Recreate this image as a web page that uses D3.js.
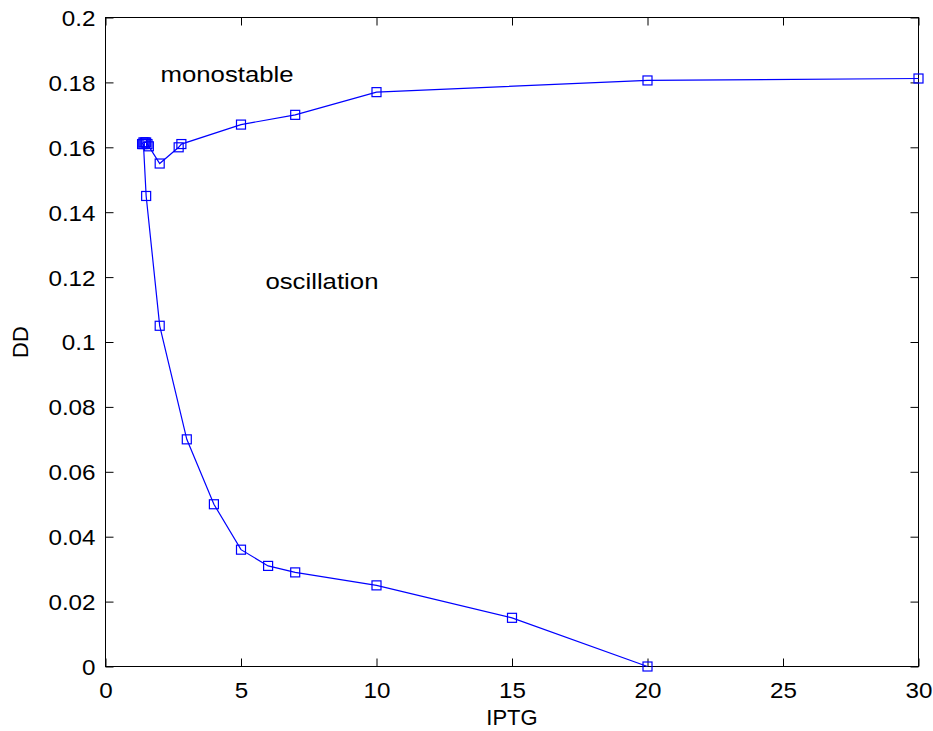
<!DOCTYPE html>
<html>
<head>
<meta charset="utf-8">
<script src="https://cdn.jsdelivr.net/npm/d3@7"></script>
<style>
  html, body { margin: 0; padding: 0; background: #fff; }
  svg { display: block; font-family: "Liberation Sans", Arial, Helvetica, sans-serif; }
</style>
</head>
<body>
<svg id="chart" width="933" height="731"></svg>
<script>
// Bifurcation boundary in the IPTG–DD plane
// Upper branch (monostable boundary), ordered by IPTG
const upperIPTG = [1.35, 1.4, 1.45, 1.5, 1.55, 1.6, 2, 2.7, 2.8, 5, 7, 10, 20, 30];
const upperDD   = [0.161, 0.1615, 0.1615, 0.1615, 0.161, 0.1603, 0.155, 0.160, 0.161, 0.167, 0.170, 0.177, 0.1806, 0.1812];
// Lower branch (oscillation boundary)
const lowerIPTG = [1.4, 1.5, 2, 3, 4, 5, 6, 7, 10, 15, 20];
const lowerDD   = [0.161, 0.145, 0.105, 0.070, 0.050, 0.036, 0.031, 0.029, 0.025, 0.015, 0.0];

const xTicks = [0, 5, 10, 15, 20, 25, 30];
const yTicks = [0, 0.02, 0.04, 0.06, 0.08, 0.1, 0.12, 0.14, 0.16, 0.18, 0.2];

const regionLabels = [
  { text: "monostable", x: 2.03, y: 0.1802 },
  { text: "oscillation", x: 5.9, y: 0.1162 }
];

const svg = d3.select("#chart");
const m = { left: 105.5, right: 918.5, top: 17.5, bottom: 666.5 };

const x = d3.scaleLinear().domain([0, 30]).range([m.left, m.right]);
const y = d3.scaleLinear().domain([0, 0.2]).range([m.bottom, m.top]);

const blue = "#0000ff";
const fontSize = 22;
const tickLen = 8;
const fontFam = "'Liberation Sans', Arial, Helvetica, sans-serif";

// axes box
svg.append("rect")
  .attr("x", m.left).attr("y", m.top)
  .attr("width", m.right - m.left).attr("height", m.bottom - m.top)
  .attr("fill", "none").attr("stroke", "#000").attr("stroke-width", 1);

// bottom / top axes with inward ticks
const xAxisB = d3.axisBottom(x).tickValues(xTicks).tickSize(-tickLen).tickFormat(d3.format("d"));
const gxB = svg.append("g").attr("transform", `translate(0,${m.bottom})`).call(xAxisB);
const xAxisT = d3.axisTop(x).tickValues(xTicks).tickSize(-tickLen).tickFormat("");
const gxT = svg.append("g").attr("transform", `translate(0,${m.top})`).call(xAxisT);

// left / right axes with inward ticks
const fmtY = d => d === 0 ? "0" : String(+d.toFixed(2));
const yAxisL = d3.axisLeft(y).tickValues(yTicks).tickSize(-tickLen).tickPadding(10).tickFormat(fmtY);
const gyL = svg.append("g").attr("transform", `translate(${m.left},0)`).call(yAxisL);
const yAxisR = d3.axisRight(y).tickValues(yTicks).tickSize(-tickLen).tickFormat("");
const gyR = svg.append("g").attr("transform", `translate(${m.right},0)`).call(yAxisR);

[gxB, gxT, gyL, gyR].forEach(g => {
  g.select(".domain").remove();
  g.selectAll(".tick line").attr("stroke", "#000").attr("stroke-width", 1);
  g.selectAll(".tick text")
    .attr("fill", "#000")
    .style("font-size", fontSize + "px")
    .style("font-family", fontFam);
});
// slightly wider digit rendering
gxB.selectAll(".tick text").attr("y", 0).attr("dy", 0)
  .attr("transform", "translate(0,31) scale(1.1,1)");
gyL.selectAll(".tick text").attr("x", 0).attr("dy", "0.36em")
  .attr("transform", "translate(-10,0) scale(1.1,1)");

// axis titles
svg.append("text")
  .attr("x", (m.left + m.right) / 2).attr("y", 725)
  .attr("text-anchor", "middle")
  .style("font-size", fontSize + "px")
  .text("IPTG");
svg.append("text")
  .attr("transform", `translate(28,${(m.top + m.bottom) / 2}) rotate(-90)`)
  .attr("text-anchor", "middle")
  .style("font-size", fontSize + "px")
  .text("DD");

// region labels
svg.selectAll(".region")
  .data(regionLabels)
  .enter().append("text")
  .attr("class", "region")
  .attr("transform", d => `translate(${x(d.x)},${y(d.y)}) scale(1.12,1)`)
  .style("font-size", "23px")
  .text(d => d.text);

// branch curves with square markers
const line = d3.line().x(d => x(d[0])).y(d => y(d[1]));
const branches = [
  d3.zip(upperIPTG, upperDD),
  d3.zip(lowerIPTG, lowerDD)
];
const ms = 9;
branches.forEach(pts => {
  svg.append("path")
    .attr("d", line(pts))
    .attr("fill", "none").attr("stroke", blue).attr("stroke-width", 1.2);
  svg.append("g").selectAll("rect")
    .data(pts).enter().append("rect")
    .attr("x", d => x(d[0]) - ms / 2).attr("y", d => y(d[1]) - ms / 2)
    .attr("width", ms).attr("height", ms)
    .attr("fill", "none").attr("stroke", blue).attr("stroke-width", 1.2);
});
</script>
</body>
</html>
